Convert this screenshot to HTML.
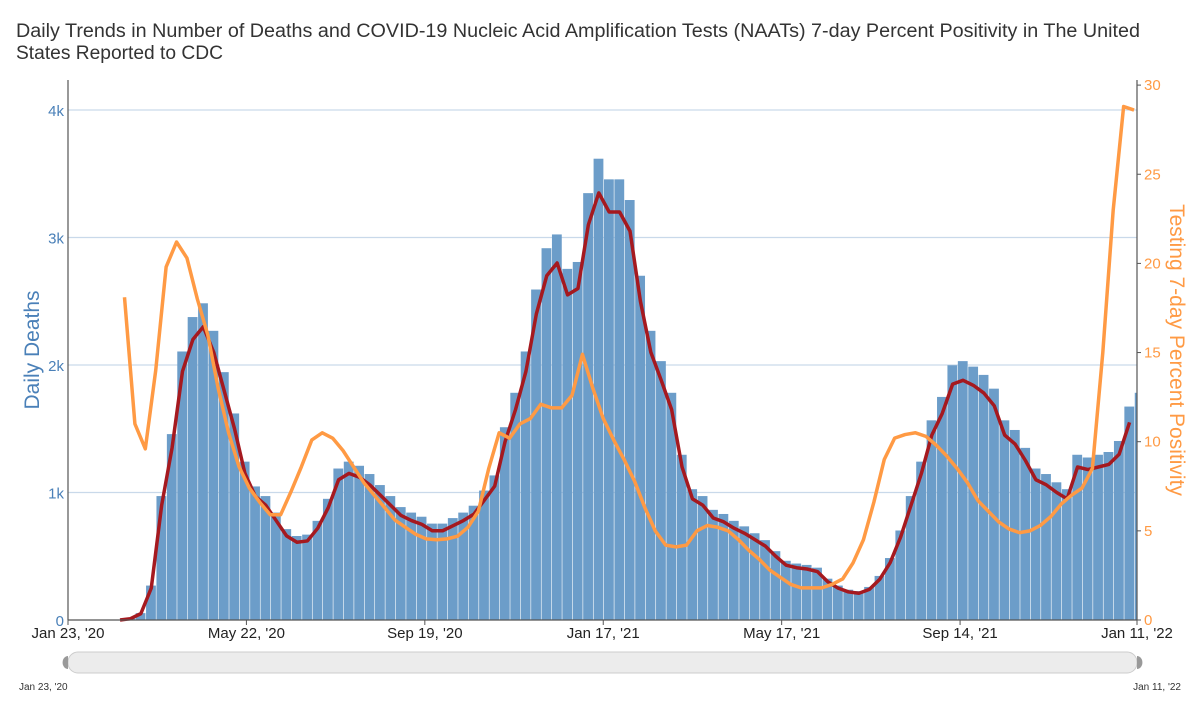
<!DOCTYPE html>
<html><head><meta charset="utf-8"><style>
body{margin:0;background:#fff;font-family:"Liberation Sans",sans-serif}
svg text{font-family:"Liberation Sans",sans-serif}
</style></head><body>
<svg id="c" width="1200" height="711" xmlns="http://www.w3.org/2000/svg">
<text x="16" y="37" font-size="19" fill="#333" textLength="1124" lengthAdjust="spacingAndGlyphs">Daily Trends in Number of Deaths and COVID-19 Nucleic Acid Amplification Tests (NAATs) 7-day Percent Positivity in The United</text>
<text x="16" y="59" font-size="19" fill="#333" textLength="207" lengthAdjust="spacingAndGlyphs">States Reported to CDC</text>
<text transform="translate(39,350) rotate(-90)" text-anchor="middle" font-size="21" fill="#4a80b8">Daily Deaths</text>
<text transform="translate(1170,350) rotate(90)" text-anchor="middle" font-size="21" fill="#ff9a44">Testing 7-day Percent Positivity</text>
<g id="grid"></g><g id="bars"></g><g id="lines"></g><g id="axes"></g>
<g>
<rect x="68" y="652" width="1069" height="21" rx="10" fill="#ececec" stroke="#ccc"/>
<path d="M68 656 a5 6 0 0 0 0 13 z" fill="#999"/>
<path d="M1137 656 a5 6 0 0 1 0 13 z" fill="#999"/>
<text x="19" y="690" font-size="10" fill="#333">Jan 23, '20</text>
<text x="1181" y="690" font-size="10" fill="#333" text-anchor="end">Jan 11, '22</text>
</g>
</svg>
<script>
// weekly 7-day average deaths (thousands), week 0 = Jan 23 2020
const deathsK=[0,0,0,0,0,0,0.01,0.05,0.25,0.9,1.35,1.95,2.2,2.3,2.1,1.8,1.5,1.15,0.97,0.9,0.78,0.66,0.61,0.62,0.72,0.88,1.1,1.15,1.12,1.06,0.98,0.9,0.82,0.78,0.75,0.7,0.7,0.74,0.78,0.83,0.94,1.05,1.4,1.65,1.95,2.4,2.7,2.8,2.55,2.6,3.1,3.35,3.2,3.2,3.05,2.5,2.1,1.88,1.65,1.2,0.95,0.9,0.8,0.77,0.72,0.68,0.63,0.58,0.5,0.43,0.41,0.4,0.38,0.3,0.25,0.22,0.21,0.24,0.32,0.45,0.65,0.9,1.15,1.45,1.62,1.85,1.88,1.84,1.78,1.68,1.45,1.38,1.25,1.1,1.06,1.0,0.95,1.2,1.18,1.2,1.22,1.3,1.55,1.65];
// weekly positivity (%), starting day 38
const posStartDay=38;
const positivity=[18.1,11.0,9.6,14,19.8,21.2,20.3,18,16,13,10.5,8.6,7.4,6.6,5.9,5.9,7.2,8.6,10.1,10.5,10.2,9.5,8.6,7.7,7,6.3,5.6,5.2,4.8,4.55,4.5,4.55,4.7,5.2,6.1,8.5,10.5,10.2,11,11.3,12.1,11.9,11.9,12.6,14.9,13,11.3,10.1,9,7.8,6.3,5,4.2,4.1,4.2,5,5.3,5.2,5,4.5,3.9,3.4,2.8,2.4,2,1.8,1.8,1.8,2,2.3,3.2,4.5,6.6,9,10.2,10.4,10.5,10.3,9.8,9.2,8.5,7.7,6.7,6.1,5.5,5.1,4.9,5,5.3,5.8,6.5,7,7.4,8.5,15,23,28.8,28.6];
const leftTicks=["0","1k","2k","3k","4k"];
const rightTicks=["0","5","10","15","20","25","30"];
const xTicks=["Jan 23, '20","May 22, '20","Sep 19, '20","Jan 17, '21","May 17, '21","Sep 14, '21","Jan 11, '22"];
const xTickDays=[0,120,240,360,480,600,719];

const X0=68,X1=1137,TOTAL=719,Y0=620;
const xd=d=>X0+(X1-X0)*d/TOTAL;
const yL=v=>Y0-v*127.5;
const yR=v=>Y0-v*17.83;
const NS="http://www.w3.org/2000/svg";
function mk(tag,parent,attrs){const e=document.createElementNS(NS,tag);for(const k in attrs)e.setAttribute(k,attrs[k]);document.getElementById(parent).appendChild(e);return e;}
leftTicks.forEach((t,i)=>{
  if(i>0){const g=mk('line','grid',{x1:X0,x2:X1,y1:yL(i),y2:yL(i),stroke:'#c9d9ea','stroke-width':1.3});
  
  }
  const tx=mk('text','axes',{x:X0-4,y:yL(i)+6,'text-anchor':'end','font-size':15,fill:'#4a80b8'});tx.textContent=t;
  
  
});
rightTicks.forEach((t,i)=>{
  const v=i*5;
  mk('line','axes',{x1:X1,x2:X1+4,y1:yR(v),y2:yR(v),stroke:'#555'});
  const tx=mk('text','axes',{x:X1+7,y:yR(v)+5,'font-size':15,fill:'#ff9a44'});tx.textContent=t;
  
  
});
xTicks.forEach((t,i)=>{
  const x=xd(xTickDays[i]);
  mk('line','axes',{x1:x,x2:x,y1:Y0,y2:Y0+5,stroke:'#555'});
  const tx=mk('text','axes',{x:x,y:Y0+18,'text-anchor':'middle','font-size':15,fill:'#222'});tx.textContent=t;
  
  
});
const wpx=(X1-X0)*7/TOTAL;
deathsK.forEach((v,i)=>{
  if(v<=0)return;
  const x=Math.max(X0,xd(i*7)-wpx/2);
  const b=mk('rect','bars',{x:x,y:yL(v*1.08),width:Math.max(0,Math.min(wpx-0.6,X1-x)),height:v*1.08*127.5,fill:'#6c9dc9'});
  
  
});
let p=deathsK.map((v,i)=>[xd(i*7),yL(v)]).filter(q=>q[0]>=120&&q[0]<=X1);
const rl=mk('polyline','lines',{points:p.map(q=>q.join(',')).join(' '),fill:'none',stroke:'#a5191f','stroke-width':3.5,'stroke-linejoin':'round'});


let po=positivity.map((v,i)=>[xd(posStartDay+i*7),yR(v)]);
const ol=mk('polyline','lines',{points:po.map(q=>q.join(',')).join(' '),fill:'none',stroke:'#ff9a44','stroke-width':3.5,'stroke-linejoin':'round'});


mk('line','axes',{x1:X0,x2:X0,y1:80,y2:Y0,stroke:'#555','stroke-width':1.2});
mk('line','axes',{x1:X1,x2:X1,y1:80,y2:Y0,stroke:'#555','stroke-width':1.2});
mk('line','axes',{x1:X0,x2:X1,y1:Y0,y2:Y0,stroke:'#555','stroke-width':1.2});
</script>
</body></html>
